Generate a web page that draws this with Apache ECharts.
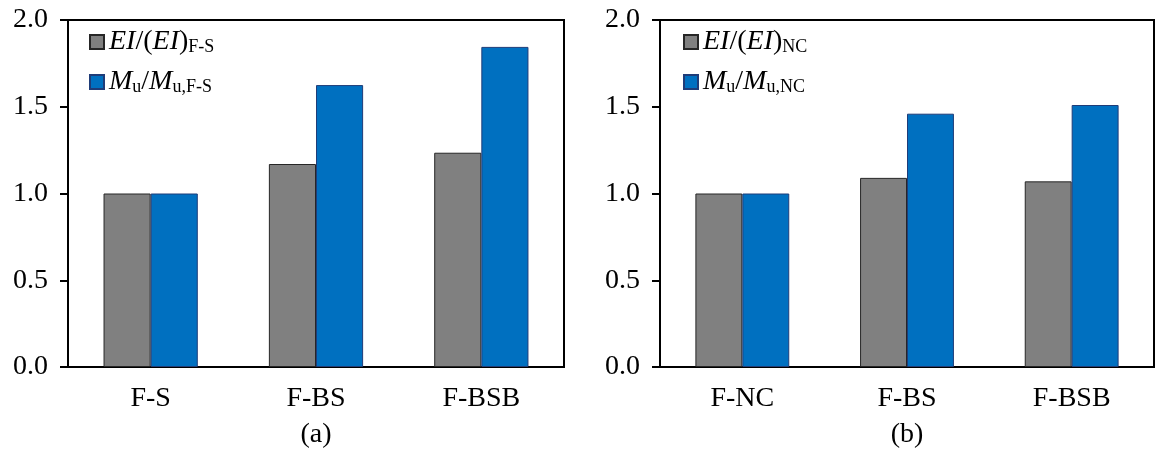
<!DOCTYPE html>
<html><head><meta charset="utf-8">
<script src="https://cdn.jsdelivr.net/npm/echarts@6/dist/echarts.min.js"></script>
<style>html,body{margin:0;padding:0;background:#fff}#c{width:1155px;height:454px}</style>
</head><body><div id="c"></div>
<script>
const categoriesA = ['F-S', 'F-BS', 'F-BSB'];
const categoriesB = ['F-NC', 'F-BS', 'F-BSB'];
const eiA = [1.0, 1.17, 1.235];
const muA = [1.0, 1.625, 1.845];
const eiB = [1.0, 1.09, 1.07];
const muB = [1.0, 1.46, 1.51];
const yTicks = ['0.0', '0.5', '1.0', '1.5', '2.0'];
const panelLabels = ['(a)', '(b)'];
const seriesNames = ['EI/(EI)F-S', 'Mu/Mu,F-S', 'EI/(EI)NC', 'Mu/Mu,NC'];

const FONT = 'Liberation Serif';
const FS = 28;
const GREY = '#808080', BLUE = '#0070C0';

const rich = {
  i: {fontFamily: FONT, fontStyle: 'italic', fontSize: FS, color: '#000'},
  n: {fontFamily: FONT, fontSize: FS, color: '#000'},
  s: {fontFamily: FONT, fontSize: 18, color: '#000', padding: [10, 0, 0, 0]}
};
function legendFmt(name) {
  if (name === seriesNames[0]) return '{i|EI}{n|/(}{i|EI}{n|)}{s|F-S}';
  if (name === seriesNames[1]) return '{i|M}{s|u}{n|/}{i|M}{s|u,F-S}';
  if (name === seriesNames[2]) return '{i|EI}{n|/(}{i|EI}{n|)}{s|NC}';
  return '{i|M}{s|u}{n|/}{i|M}{s|u,NC}';
}

function xAxis(idx, cats) {
  return {
    type: 'category', gridIndex: idx, data: cats,
    axisLine: {lineStyle: {color: '#000', width: 2}},
    axisTick: {show: false},
    axisLabel: {fontFamily: FONT, fontSize: FS, color: '#000', margin: 18},
    name: panelLabels[idx], nameLocation: 'middle', nameGap: 54,
    nameTextStyle: {fontFamily: FONT, fontSize: FS, color: '#000'}
  };
}
function yAxis(idx) {
  return {
    type: 'value', gridIndex: idx, min: 0, max: 2, interval: 0.5,
    axisLine: {show: true, lineStyle: {color: '#000', width: 2}},
    axisTick: {show: true, length: 8, lineStyle: {color: '#000', width: 2}},
    splitLine: {show: false},
    axisLabel: {fontFamily: FONT, fontSize: FS, color: '#000', margin: 20,
      formatter: v => yTicks[Math.round(v / 0.5)]}
  };
}
function bar(name, data, idx, color, border) {
  return {
    type: 'bar', name, data, xAxisIndex: idx, yAxisIndex: idx,
    barGap: '0%', barCategoryGap: '43%',
    itemStyle: {color, borderColor: border, borderWidth: 1},
    emphasis: {disabled: true}
  };
}
function legend(idx, names, left) {
  return {
    data: names, orient: 'vertical', left, top: 23, itemGap: 12,
    icon: 'rect', itemWidth: 14, itemHeight: 14,
    formatter: legendFmt,
    textStyle: {fontFamily: FONT, fontSize: FS, color: '#000', rich},
    selectedMode: false
  };
}

const chart = echarts.init(document.getElementById('c'), null, {renderer: 'canvas'});
chart.setOption({
  animation: false,
  backgroundColor: '#fff',
  grid: [
    {left: 68, top: 20, width: 496, height: 349, show: true, borderColor: '#000', borderWidth: 2, containLabel: false},
    {left: 660, top: 20, width: 494, height: 349, show: true, borderColor: '#000', borderWidth: 2, containLabel: false}
  ],
  xAxis: [xAxis(0, categoriesA), xAxis(1, categoriesB)],
  yAxis: [yAxis(0), yAxis(1)],
  legend: [legend(0, [seriesNames[0], seriesNames[1]], 84), legend(1, [seriesNames[2], seriesNames[3]], 678)],
  series: [
    bar(seriesNames[0], eiA, 0, GREY, '#262626'),
    bar(seriesNames[1], muA, 0, BLUE, '#1F3C78'),
    bar(seriesNames[2], eiB, 1, GREY, '#262626'),
    bar(seriesNames[3], muB, 1, BLUE, '#1F3C78')
  ]
});
</script></body></html>
